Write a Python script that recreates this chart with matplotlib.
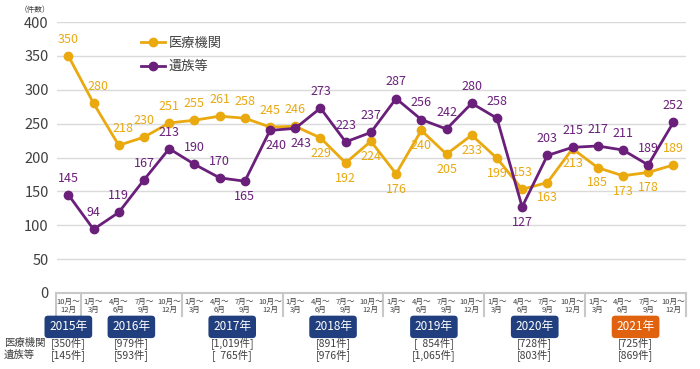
import matplotlib
matplotlib.use('Agg')
import matplotlib.pyplot as plt
import numpy as np

plt.rcParams['font.family'] = ['Noto Sans CJK JP', 'DejaVu Sans']

# quarterly counts, 2015 Q4 .. 2021 Q4
quarters = ['10月～\n12月'] + ['1月～\n3月', '4月～\n6月', '7月～\n9月', '10月～\n12月'] * 6
iryo = [350, 280, 218, 230, 251, 255, 261, 258, 245, 246, 229, 192, 224,
        176, 240, 205, 233, 199, 153, 163, 213, 185, 173, 178, 189]
izoku = [145, 94, 119, 167, 213, 190, 170, 165, 240, 243, 273, 223, 237,
         287, 256, 242, 280, 258, 127, 203, 215, 217, 211, 189, 252]
# label below the point?
iryo_below = [10, 11, 12, 13, 14, 15, 16, 17, 19, 20, 21, 22, 23]
izoku_below = [7, 8, 9, 18]

years = ['2015年', '2016年', '2017年', '2018年', '2019年', '2020年', '2021年']
year_center = [0, 2.5, 6.5, 10.5, 14.5, 18.5, 22.5]
year_iryo = ['[350件]', '[979件]', '[1,019件]', '[891件]', '[  854件]', '[728件]', '[725件]']
year_izoku = ['[145件]', '[593件]', '[  765件]', '[976件]', '[1,065件]', '[803件]', '[869件]']
year_sep = [-0.5, 0.5, 4.5, 8.5, 12.5, 16.5, 20.5, 24.5]

c_yel = '#E9A90F'
c_pur = '#6A1F7A'
c_blue = '#213F7E'
c_org = '#E0620F'
txt = '#404040'

fig = plt.figure(figsize=(7, 3.69), dpi=100)
ax = fig.add_axes([57/700, 76/369, 629/700, 271/369])

x = np.arange(len(iryo))
ax.plot(x, iryo, color=c_yel, lw=2, marker='o', ms=6, label='医療機関', zorder=3)
ax.plot(x, izoku, color=c_pur, lw=2, marker='o', ms=6, label='遺族等', zorder=4)

for i, v in enumerate(iryo):
    dy = -11 if i in iryo_below else 12
    dx = 3 if i in (1, 2) else 0
    ax.annotate(str(v), (i, v), xytext=(dx, dy), textcoords='offset points',
                ha='center', va='center', fontsize=9, color=c_yel)
for i, v in enumerate(izoku):
    dy = -11 if i in izoku_below else 12
    dx = 4 if i in (8, 9) else 0
    ax.annotate(str(v), (i, v), xytext=(dx, dy), textcoords='offset points',
                ha='center', va='center', fontsize=9, color=c_pur)

ax.set_xlim(-0.45, 24.5)
ax.set_ylim(0, 400)
ax.set_yticks(range(0, 401, 50))
ax.set_xticks([])
ax.tick_params(axis='y', length=0, labelsize=10.5, labelcolor=txt, pad=6)
ax.grid(axis='y', color='#DADADA', lw=1)
ax.set_axisbelow(True)
for s in ['top', 'right', 'left']:
    ax.spines[s].set_visible(False)
ax.spines['bottom'].set_color('#C8C8C8')
ax.spines['bottom'].set_linewidth(1.5)

# category box under the axis
for xs in year_sep:
    ax.plot([xs, xs], [0, -34], color='#C8C8C8', lw=1.5, clip_on=False)
for i, q in enumerate(quarters):
    ax.text(i, -19, q, ha='center', va='center', fontsize=5.5, color=txt,
            linespacing=1.0)

for i, y in enumerate(years):
    fc = c_org if y == '2021年' else c_blue
    ax.text(year_center[i], -50, y, ha='center', va='center', fontsize=8.5,
            color='white',
            bbox=dict(boxstyle='round,pad=0.4,rounding_size=0.3', fc=fc, ec='none'))
    ax.text(year_center[i], -74, year_iryo[i], ha='center', va='center',
            fontsize=7.5, color=txt)
    ax.text(year_center[i], -92, year_izoku[i], ha='center', va='center',
            fontsize=7.5, color=txt)

fig.text(4/700, 1 - 343/369, '医療機関', ha='left', va='center', fontsize=7.5, color=txt)
fig.text(4/700, 1 - 355/369, '遺族等', ha='left', va='center', fontsize=7.5, color=txt)
fig.text(20/700, 1 - 10/369, '（件数）', ha='left', va='center', fontsize=5.5, color=txt)

ax.legend(loc='upper left', bbox_to_anchor=(0.115, 0.99), frameon=False,
          fontsize=9.5, handlelength=1.8, handletextpad=0.3, labelspacing=0.8,
          labelcolor=txt)

fig.savefig('out.png', dpi=100)
